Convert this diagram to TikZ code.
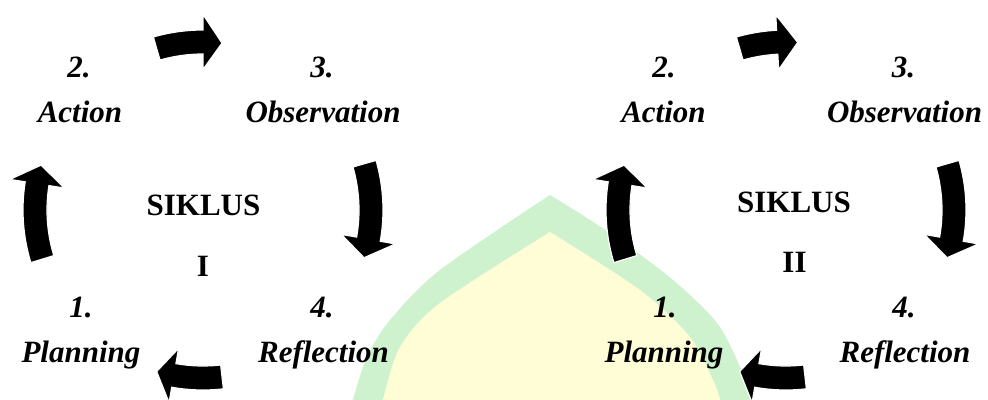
\documentclass[tikz,border=0pt]{standalone}
\usepackage{fontspec}
\setmainfont{Liberation Serif}

% thick curved block arrow on a circle round the current origin:
% #1 tail angle, #2 angle where the head starts, #3 tip angle
\newcommand\cyclearrow[3]{%
  \fill[arrowfill] (#1:180) arc[start angle=#1, end angle=#2, radius=180]
    -- (#2:195.5) -- (#3:168) -- (#2:140.5) -- (#2:156)
    arc[start angle=#2, end angle=#1, radius=156] -- cycle;}

\definecolor{wmgreen}{RGB}{205,242,205}
\definecolor{wmyellow}{RGB}{255,253,214}

\begin{document}
\begin{tikzpicture}[x=1pt, y=1pt,
  steplabel/.style={font=\fontsize{31}{31}\selectfont\bfseries\itshape, inner sep=0pt, anchor=base},
  cycletitle/.style={font=\fontsize{31}{31}\selectfont\bfseries, inner sep=0pt, anchor=base},
  arrowfill/.style={fill=black, draw=white, line width=1.2pt, line join=miter}]

\useasboundingbox (0,0) rectangle (988,399);
\clip (0,0) rectangle (988,399);
\fill[white] (0,0) rectangle (988,399);

% pointed arch in the background
\fill[wmgreen] plot[smooth] coordinates {(350,-10) (353,0) (367,42) (390,79) (440,129) (550,204)}
  -- plot[smooth] coordinates {(550,204) (610,166) (673,119) (717,76) (740,32) (750,0) (752,-10)} -- cycle;
\fill[wmyellow] plot[smooth] coordinates {(380,-10) (383,0) (400,52) (440,96) (550,167)}
  -- plot[smooth] coordinates {(550,167) (640,109) (690,62) (713,19) (720,0) (722,-10)} -- cycle;

% cycle I arrows
\begin{scope}[shift={(203,189)}]
  \cyclearrow{106}{90}{83.5}
  \cyclearrow{16}{-10}{-16.5}
  \cyclearrow{-83.5}{-100}{-106}
  \cyclearrow{197}{171}{164.5}
\end{scope}

% cycle II arrows
\begin{scope}[shift={(786,189)}]
  \cyclearrow{106}{93}{86}
  \cyclearrow{16}{-10}{-16.5}
  \cyclearrow{-83.5}{-100}{-106}
  \cyclearrow{197}{171}{164.5}
\end{scope}

% cycle I labels
\node[steplabel] (numA1) at (79,321) {2.};
\node[steplabel] (actA) at (80,276) {Action};
\node[steplabel] (numO1) at (322,321) {3.};
\node[steplabel] (obsA) at (323,276) {Observation};
\node[cycletitle] (sikA) at (203.5,183) {SIKLUS};
\node[cycletitle] (romA) at (203,122) {I};
\node[steplabel] (numP1) at (81,81) {1.};
\node[steplabel] (planA) at (81,36) {Planning};
\node[steplabel] (numR1) at (322,81) {4.};
\node[steplabel] (refA) at (323.5,36) {Reflection};

% cycle II labels
\node[steplabel] (numA2) at (664,321) {2.};
\node[steplabel] (actB) at (663.5,276) {Action};
\node[steplabel] (numO2) at (903.5,321) {3.};
\node[steplabel] (obsB) at (904.5,276) {Observation};
\node[cycletitle] (sikB) at (794,186) {SIKLUS};
\node[cycletitle] (romB) at (794.5,126) {II};
\node[steplabel] (numP2) at (665,81) {1.};
\node[steplabel] (planB) at (664,36) {Planning};
\node[steplabel] (numR2) at (904,81) {4.};
\node[steplabel] (refB) at (905,36) {Reflection};
\end{tikzpicture}
\end{document}
